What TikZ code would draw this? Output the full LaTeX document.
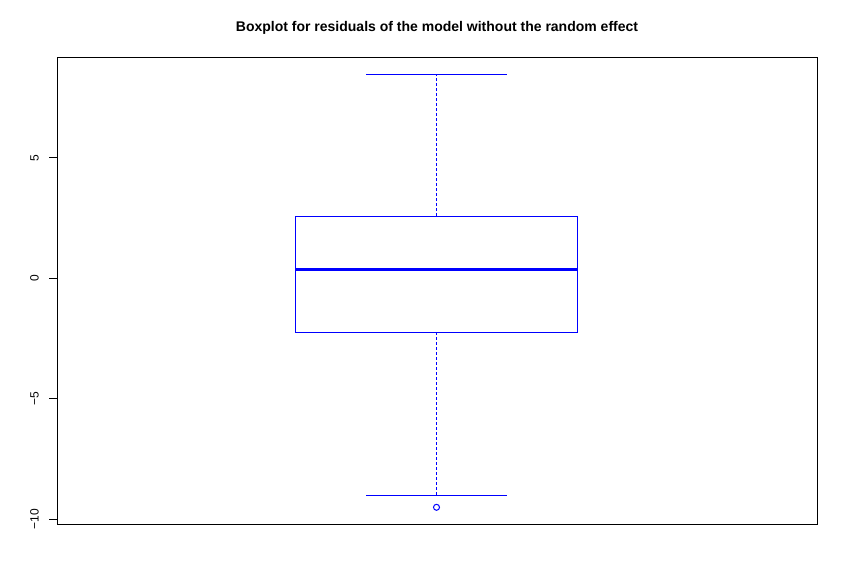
\documentclass[tikz,border=0pt]{standalone}
\usepackage{fontspec}
\setmainfont{Liberation Sans}
\begin{document}
\begin{tikzpicture}[x=1pt,y=-1pt,
  frame/.style={draw=black,line width=1pt},
  bx/.style={draw=blue,line width=1pt},
  whisk/.style={draw=blue,line width=1pt,dash pattern=on 3pt off 2pt},
  med/.style={draw=blue,line width=3pt},
  tick/.style={draw=black,line width=1pt},
  ticklab/.style={rotate=90,font=\fontsize{12}{14}\selectfont,inner sep=0pt},
  ttl/.style={font=\fontsize{14}{16}\bfseries\selectfont,inner sep=0pt}]
\useasboundingbox (0,0) rectangle (842,568);
\fill[white] (0,0) rectangle (842,568);
% frame
\coordinate (fl) at (57,57);
\coordinate (fr) at (817,524);
\draw[frame] (fl) rectangle (fr);
% title
\node[ttl] (title) at (437,27.5) {Boxplot for residuals of the model without the random effect};
% axis ticks: y(v) = 278.3 - 24.1 v
\foreach \v/\lab in {5/5,0/0,-5/−5,-10/−10}{
  \coordinate (ta\v) at (57,{278.3-24.1*\v});
  \coordinate (tb\v) at (49,{278.3-24.1*\v});
  \draw[tick] (ta\v) -- (tb\v);
  \node[ticklab] (lab\v) at (34.5,{278.3-24.1*\v}) {\lab};
}
% box
\coordinate (bl) at (295.5,216);
\coordinate (br) at (577.5,332.3);
\draw[bx] (bl) rectangle (br);
\coordinate (ml) at (295.5,269.3);
\coordinate (mr) at (577.5,269.3);
\draw[med] (ml) -- (mr);
% whiskers
\coordinate (bt) at (436.5,216);
\coordinate (bb) at (436.5,332.3);
\coordinate (wt) at (436.5,74);
\coordinate (wb) at (436.5,495);
\draw[whisk] (bt) -- (wt);
\draw[whisk] (bb) -- (wb);
\coordinate (wtl) at (366,74);
\coordinate (wtr) at (507,74);
\coordinate (wbl) at (366,495);
\coordinate (wbr) at (507,495);
\draw[bx] (wtl) -- (wtr);
\draw[bx] (wbl) -- (wbr);
% outlier
\node[draw=blue,line width=1pt,circle,minimum size=6pt,inner sep=0pt] (out) at (436.5,507.3) {};
\end{tikzpicture}
\end{document}
